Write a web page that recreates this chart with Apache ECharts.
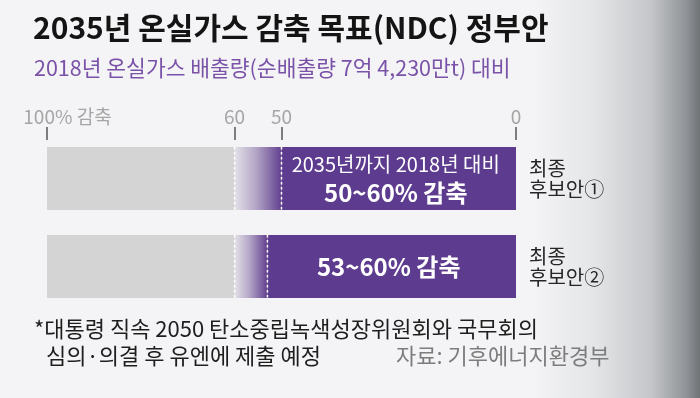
<!DOCTYPE html>
<html><head><meta charset="utf-8">
<script src="https://cdn.jsdelivr.net/npm/echarts@6/dist/echarts.min.js"></script>
<style>
html,body{margin:0;padding:0;}
#c{width:700px;height:398px;background:linear-gradient(to right,#f4f4f6 0%,#f4f4f6 76%,#e4e5e7 85%,#c4c6c9 93%,#909397 98%,#6f7376 100%);}
</style></head>
<body><div id="c"></div>
<script>
// ---- data ----
const categories = ['최종\n후보안①', '최종\n후보안②'];
const lowEnd = [50, 53];      // lower bound of reduction target (%)
const highEnd = [60, 60];     // upper bound of reduction target (%)
const fullScale = 100;
const tickValues = [100, 60, 50, 0];
const barNotes = ['2035년까지 2018년 대비', ''];
const titleText = '2035년 온실가스 감축 목표(NDC) 정부안';
const subText = '2018년 온실가스 배출량(순배출량 7억 4,230만t) 대비';
const footLine1 = '*대통령 직속 2050 탄소중립녹색성장위원회와 국무회의';
const footLine2 = '심의·의결 후 유엔에 제출 예정';
const sourceText = '자료: 기후에너지환경부';

const purpleVals = lowEnd.slice();
const gradVals = highEnd.map((h, i) => h - lowEnd[i]);
const grayVals = highEnd.map(h => fullScale - h);
const dashPoints = [];
categories.forEach((c, i) => { dashPoints.push([highEnd[i], i]); dashPoints.push([lowEnd[i], i]); });

const FONT = '"Noto Sans CJK KR","Noto Sans",sans-serif';
const BAR_W = 63;
const chart = echarts.init(document.getElementById('c'), null, {renderer: 'canvas'});
chart.setOption({
  animation: false,
  textStyle: {fontFamily: FONT},
  title: [
    {text: titleText, left: 33, top: 13, padding: 0,
     textStyle: {fontFamily: FONT, fontSize: 30, fontWeight: 'bold', color: '#141414'}},
    {text: subText, left: 34, top: 57, padding: 0,
     textStyle: {fontFamily: FONT, fontSize: 21.5, fontWeight: 'normal', color: '#7a52a8'}},
    {text: footLine1, left: 34, top: 318, padding: 0,
     textStyle: {fontFamily: FONT, fontSize: 22, fontWeight: 'normal', color: '#1e1e1e'}},
    {text: footLine2, left: 46, top: 345, padding: 0,
     textStyle: {fontFamily: FONT, fontSize: 22, fontWeight: 'normal', color: '#1e1e1e'}},
    {text: sourceText, left: 396, top: 345, padding: 0,
     textStyle: {fontFamily: FONT, fontSize: 22, fontWeight: 'normal', color: '#7d7d7d'}}
  ],
  grid: {left: 47, right: 184, top: 134.5, bottom: 87.5},
  xAxis: {
    type: 'value', inverse: true, min: 0, max: fullScale, position: 'top', offset: -5.5,
    axisLine: {show: false},
    splitLine: {show: false},
    axisTick: {show: true, length: 13, customValues: tickValues, lineStyle: {color: '#555', width: 1.5}},
    axisLabel: {
      show: true, customValues: tickValues, margin: 14, color: '#a6a6a6', fontSize: 19, fontFamily: FONT,
      formatter: v => v === fullScale ? '{p|' + v + '% 감축}' : String(v),
      rich: {p: {fontSize: 19, color: '#a6a6a6', fontFamily: FONT, padding: [0, 0, 0, 41]}}
    }
  },
  yAxis: {
    type: 'category', data: categories, inverse: true, position: 'right',
    axisLine: {show: false}, axisTick: {show: false}, splitLine: {show: false},
    axisLabel: {align: 'left', margin: 13, fontSize: 20, lineHeight: 21, color: '#262626', fontFamily: FONT}
  },
  series: [
    {type: 'bar', stack: 'r', data: purpleVals, barWidth: BAR_W,
     itemStyle: {color: '#5d3b8e'},
     label: {show: true, position: 'inside', offset: [-3, 0],
       formatter: p => (barNotes[p.dataIndex] ? '{a|' + barNotes[p.dataIndex] + '}\n' : '') +
                        '{b|' + lowEnd[p.dataIndex] + '~' + highEnd[p.dataIndex] + '% 감축}',
       rich: {a: {fontSize: 20, color: '#fff', fontFamily: FONT, lineHeight: 29},
              b: {fontSize: 24, color: '#fff', fontWeight: 'bold', fontFamily: FONT, lineHeight: 29}}}},
    {type: 'bar', stack: 'r', data: gradVals, barWidth: BAR_W,
     itemStyle: {color: new echarts.graphic.LinearGradient(0, 0, 1, 0, [
       {offset: 0, color: '#e3e1e7'}, {offset: 0.45, color: '#b4a6c7'}, {offset: 1, color: '#62408f'}])}},
    {type: 'bar', stack: 'r', data: grayVals, barWidth: BAR_W,
     itemStyle: {color: '#d4d4d4'}},
    {type: 'custom', data: dashPoints, z: 10,
     renderItem: (params, api) => {
       const pt = api.coord([api.value(0), api.value(1)]);
       return {type: 'line', shape: {x1: pt[0], y1: pt[1] - BAR_W / 2, x2: pt[0], y2: pt[1] + BAR_W / 2},
               style: {stroke: '#ffffff', lineWidth: 1.5, lineDash: [2.5, 2.5]}};
     }}
  ]
});
</script></body></html>
